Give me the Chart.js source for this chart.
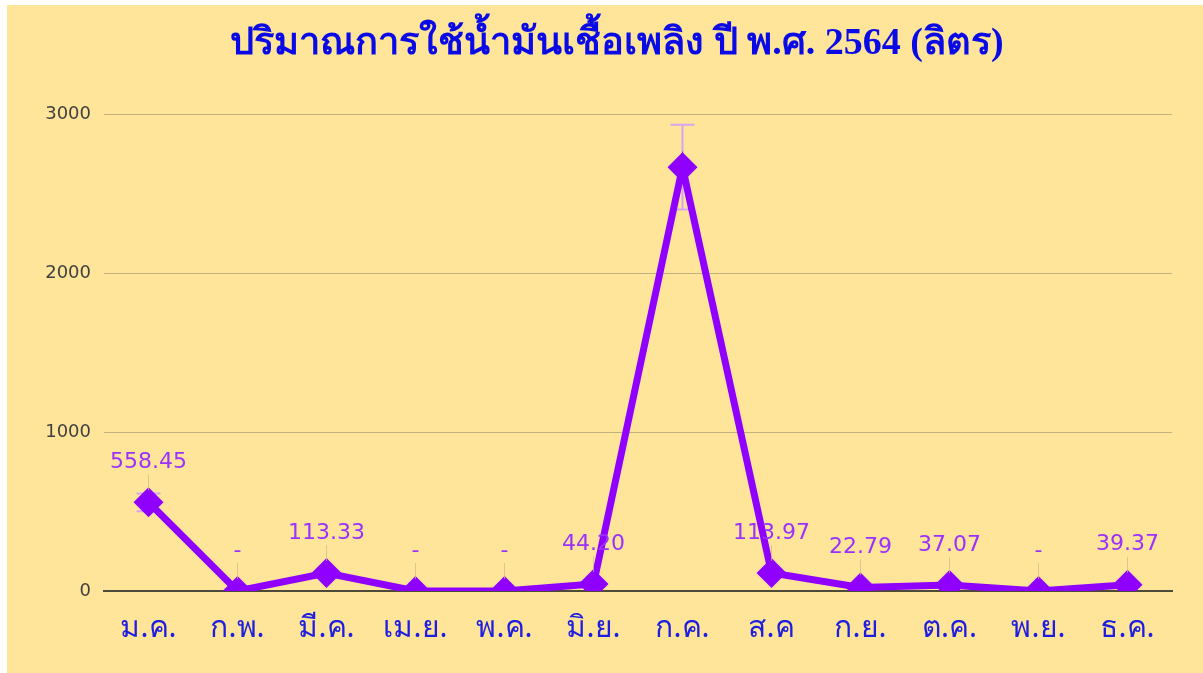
<!DOCTYPE html>
<html>
<head>
<meta charset="utf-8">
<script src="https://cdn.jsdelivr.net/npm/chart.js@4.4.1/dist/chart.umd.min.js"></script>
<style>
  html, body { margin: 0; padding: 0; background: #fff; }
  .chart { position: absolute; left: 7px; top: 5px; width: 1196px; height: 668px; background: #FFE599; }
</style>
</head>
<body>
<div class="chart"><canvas id="chart"></canvas></div>
<script>
const months = ['ม.ค.', 'ก.พ.', 'มี.ค.', 'เม.ย.', 'พ.ค.', 'มิ.ย.', 'ก.ค.', 'ส.ค', 'ก.ย.', 'ต.ค.', 'พ.ย.', 'ธ.ค.'];
const fuelLitres = [558.45, 0, 113.33, 0, 0, 44.20, 2670, 113.97, 22.79, 37.07, 0, 39.37];
const valueLabels = ['558.45', '-', '113.33', '-', '-', '44.20', '', '113.97', '22.79', '37.07', '-', '39.37'];
const yTicks = [0, 1000, 2000, 3000];
const errorPercent = 10;

const purple = '#8F00FF';

// error bars sit under the markers
const errorBarPlugin = {
  id: 'errorBars',
  beforeDatasetsDraw(chart) {
    const { ctx } = chart;
    const y = chart.scales.y;
    const meta = chart.getDatasetMeta(0);
    ctx.save();
    meta.data.forEach((pt, i) => {
      const v = fuelLitres[i];
      if (v <= 0) return;
      const top = y.getPixelForValue(v * (1 + errorPercent / 100));
      const bot = y.getPixelForValue(v * (1 - errorPercent / 100));
      ctx.strokeStyle = '#D9A3F0';
      ctx.lineWidth = 2;
      ctx.beginPath();
      ctx.moveTo(pt.x, top);
      ctx.lineTo(pt.x, bot);
      ctx.moveTo(pt.x - 12, top);
      ctx.lineTo(pt.x + 12, top);
      ctx.moveTo(pt.x - 12, bot);
      ctx.lineTo(pt.x + 12, bot);
      ctx.stroke();
    });
    ctx.restore();
  },
};

// data labels with their leader lines
const labelPlugin = {
  id: 'valueLabels',
  afterLayout(chart) {
    // title sits a bit right of the plot centre in the original
    chart.titleBlock.left = 55;
  },
  afterDatasetsDraw(chart) {
    const { ctx } = chart;
    const meta = chart.getDatasetMeta(0);
    ctx.save();
    ctx.strokeStyle = 'rgba(205,185,140,0.7)';
    ctx.lineWidth = 1;
    meta.data.forEach((pt, i) => {
      if (fuelLitres[i] > 1000) return;
      ctx.beginPath();
      ctx.moveTo(pt.x, pt.y - 28);
      ctx.lineTo(pt.x, pt.y - 12);
      ctx.stroke();
    });
    ctx.fillStyle = '#9B30FF';
    ctx.font = '22px "DejaVu Sans", sans-serif';
    ctx.textAlign = 'center';
    ctx.textBaseline = 'middle';
    meta.data.forEach((pt, i) => {
      if (valueLabels[i]) ctx.fillText(valueLabels[i], pt.x, pt.y - 40);
    });
    ctx.restore();
  },
};

new Chart(document.getElementById('chart'), {
  type: 'line',
  data: {
    labels: months,
    datasets: [{
      data: fuelLitres,
      borderColor: purple,
      backgroundColor: purple,
      borderWidth: 7,
      pointStyle: 'rectRot',
      pointRadius: 15,
      pointBorderWidth: 0,
      tension: 0,
      clip: 0,
    }],
  },
  options: {
    responsive: true,
    maintainAspectRatio: false,
    animation: false,
    layout: { padding: { left: 0, right: 31, top: 0, bottom: 0 } },
    plugins: {
      legend: { display: false },
      tooltip: { enabled: false },
      title: {
        display: true,
        text: 'ปริมาณการใช้น้ำมันเชื้อเพลิง ปี พ.ศ. 2564 (ลิตร)',
        color: '#0A0AE6',
        font: { family: 'serif', size: 38, weight: 'bold', lineHeight: 1.125 },
        padding: { top: 18, bottom: 49 },
      },
    },
    scales: {
      x: {
        offset: true,
        grid: { display: false },
        border: { color: '#4D4A3A', width: 2 },
        ticks: {
          color: '#1E1EE0',
          font: { family: 'Tahoma, "Noto Sans", sans-serif', size: 30 },
          padding: 11,
        },
        afterFit(scale) { scale.height = 82; },
      },
      y: {
        min: 0,
        max: 3000,
        afterBuildTicks(scale) { scale.ticks = yTicks.map((v) => ({ value: v })); },
        grid: {
          color: (c) => (c.tick && c.tick.value === 0 ? 'rgba(0,0,0,0)' : '#C2B07E'),
          lineWidth: 1,
          drawTicks: false,
        },
        border: { display: false },
        ticks: {
          color: '#404040',
          font: { family: '"DejaVu Sans", sans-serif', size: 18 },
          padding: 13,
          callback: (v) => String(v),
        },
        afterFit(scale) { scale.width = 97; },
      },
    },
  },
  plugins: [errorBarPlugin, labelPlugin],
});
</script>
</body>
</html>
